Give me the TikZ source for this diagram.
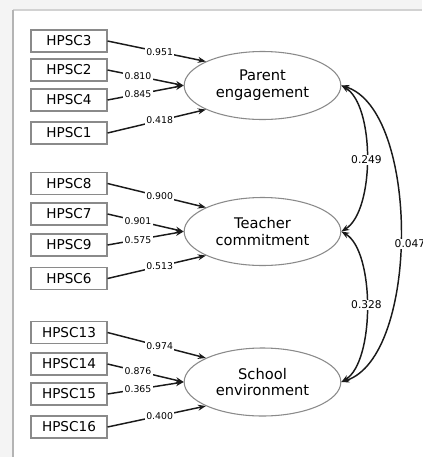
\documentclass[tikz,border=0pt]{standalone}
\usepackage{fontspec}
\setmainfont{DejaVu Sans}
\usetikzlibrary{arrows.meta,shapes.geometric}
\definecolor{bordergray}{HTML}{8A8A8A}
\definecolor{framegray}{HTML}{B4B4B4}
\definecolor{outsidegray}{HTML}{F4F4F4}
\definecolor{linedark}{HTML}{1A1A1A}
\tikzset{
  ind/.style={draw=bordergray, line width=0.8pt, fill=white, minimum width=57pt, minimum height=16.5pt, inner sep=0pt, font=\fontsize{10.2}{11}\selectfont},
  lat/.style={ellipse, draw=bordergray, line width=0.8pt, fill=white, minimum width=117.5pt, minimum height=51pt, inner sep=0pt, align=center, font=\fontsize{11}{12.5}\selectfont},
  load/.style={draw=linedark, line width=1.1pt, -{Stealth[length=6pt,width=4.5pt]}},
  cov/.style={draw=linedark, line width=1.1pt, {Stealth[length=6pt,width=4.5pt]}-{Stealth[length=6pt,width=4.5pt]}},
  wlab/.style={fill=white, inner sep=1pt, font=\fontsize{7}{8}\selectfont},
  clab/.style={fill=white, inner sep=1pt, font=\fontsize{8}{9}\selectfont}
}
\begin{document}
\begin{tikzpicture}[x=0.75pt,y=-0.75pt]
\useasboundingbox (0,0) rectangle (422,457);
\clip (0,0) rectangle (422,457);
\fill[outsidegray] (0,0) rectangle (422,457);
\fill[white] (13,10) rectangle (422,457);
\draw[framegray!60, line width=0.8pt] (13,10) -- (422,10);
\draw[framegray, line width=1.6pt] (13,10) -- (13,457);

% indicators
\node[ind] (h3) at (69,41) {HPSC3};
\node[ind] (h2) at (69,70) {HPSC2};
\node[ind] (h4) at (69,100) {HPSC4};
\node[ind] (h1) at (69,133) {HPSC1};
\node[ind] (h8) at (69,183.5) {HPSC8};
\node[ind] (h7) at (69,214) {HPSC7};
\node[ind] (h9) at (69,245) {HPSC9};
\node[ind] (h6) at (69,278.5) {HPSC6};
\node[ind] (h13) at (69,332.5) {HPSC13};
\node[ind] (h14) at (69,364) {HPSC14};
\node[ind] (h15) at (69,394) {HPSC15};
\node[ind] (h16) at (69,427) {HPSC16};

% latent
\node[lat] (pe) at (262.5,85.5) {Parent\\engagement};
\node[lat] (tc) at (262.5,231.5) {Teacher\\commitment};
\node[lat] (se) at (262.5,382) {School\\environment};

% loadings
\draw[load] (h3.east) -- node[wlab,pos=0.53]{0.951} (pe.157);
\draw[load] (h2.east) -- node[wlab,pos=0.4]{0.810} (pe.180);
\draw[load] (h4.east) -- node[wlab,pos=0.4]{0.845} (pe.180);
\draw[load] (h1.east) -- node[wlab,pos=0.53]{0.418} (pe.203);

\draw[load] (h8.east) -- node[wlab,pos=0.53]{0.900} (tc.157);
\draw[load] (h7.east) -- node[wlab,pos=0.4]{0.901} (tc.180);
\draw[load] (h9.east) -- node[wlab,pos=0.4]{0.575} (tc.180);
\draw[load] (h6.east) -- node[wlab,pos=0.53]{0.513} (tc.203);

\draw[load] (h13.east) -- node[wlab,pos=0.53]{0.974} (se.157);
\draw[load] (h14.east) -- node[wlab,pos=0.4]{0.876} (se.180);
\draw[load] (h15.east) -- node[wlab,pos=0.4]{0.365} (se.180);
\draw[load] (h16.east) -- node[wlab,pos=0.53]{0.400} (se.203);

% covariances
\draw[cov] (pe.east) .. controls (375,105) and (375,211) .. (tc.east);
\draw[cov] (tc.east) .. controls (375,251) and (375,362) .. (se.east);
\draw[cov] (pe.east) .. controls (420,110) and (420,357) .. (se.east);
\node[clab] (c1) at (366.5,160) {0.249};
\node[clab] (c2) at (366.5,305) {0.328};
\node[clab] (c3) at (410,244) {0.047};
\end{tikzpicture}
\end{document}
